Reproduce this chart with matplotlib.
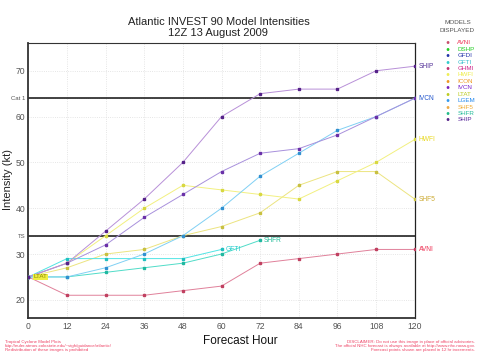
import numpy as np
import matplotlib.pyplot as plt

plt.rcParams["font.family"] = ["Liberation Sans", "DejaVu Sans"]

hours = [0, 12, 24, 36, 48, 60, 72, 84, 96, 108, 120]

# model intensities (kt)
ship = [25, 28, 35, 42, 50, 60, 65, 66, 66, 70, 71]
ivcn = [25, 28, 32, 38, 43, 48, 52, 53, 56, 60, 64]
lgem = [25, 25, 27, 30, 34, 40, 47, 52, 57, 60, 64]
hwfi = [25, 28, 34, 40, 45, 44, 43, 42, 46, 50, 55]
shf5 = [25, 27, 30, 31, 34, 36, 39, 45, 48, 48, 42]
avni = [25, 21, 21, 21, 22, 23, 28, 29, 30, 31, 31]
gfti = [25, 29, 29, 29, 29, 31]
shfr = [25, 25, 26, 27, 28, 30, 33]

legend_models = ["AVNI", "DSHP", "GFDI", "GFTI", "GHMI", "HWFI", "ICON",
                 "IVCN", "LTAT", "LGEM", "SHF5", "SHFR", "SHIP"]
legend_dot = ["#c8506e", "#22cc22", "#2233aa", "#33cccc", "#c03070",
              "#eeee55", "#ee9922", "#7722bb", "#bbcc22", "#3399ee",
              "#eeaa44", "#22bb88", "#552288"]
legend_txt = ["#ee3355", "#22cc22", "#2233aa", "#33bbcc", "#cc2288",
              "#eeee44", "#ee9922", "#7722cc", "#bbcc22", "#2288ee",
              "#eeaa33", "#22bb99", "#552299"]

# y, x, line colour, marker colour, end label colour, label text
series = [
    (avni, hours, "#e0809a", "#c04060", "#ee3355", "AVNI"),
    (shf5, hours, "#ece480", "#c8c040", "#ccaa33", "SHF5"),
    (hwfi, hours, "#f2f080", "#d8d840", "#e8d820", "HWFI"),
    (gfti, hours[:6], "#50e4e4", "#20c0c0", "#22cccc", "GFTI"),
    (shfr, hours[:7], "#50dcc8", "#20b8a0", "#22bb99", "SHFR"),
    (lgem, hours, "#80d0f4", "#3090d0", "#2288ee", None),
    (ivcn, hours, "#a890dc", "#6a30a8", "#2255cc", "IVCN"),
    (ship, hours, "#b890d8", "#552288", "#553399", "SHIP"),
]

fig = plt.figure(figsize=(4.8, 3.6), dpi=100)
ax = fig.add_axes([0.059, 0.1175, 0.805, 0.7635])

for y, x, lc, mc, tc, name in series:
    ax.plot(x, y, color=lc, linewidth=0.7, marker="s", markersize=1.8,
            markerfacecolor=mc, markeredgecolor=mc, zorder=3)
    if name:
        ax.text(x[-1] + 1.2, y[-1], name, fontsize=4.8, color=tc,
                va="center", ha="left", zorder=4, clip_on=False)

ax.text(1.5, 25, "LTAT", fontsize=4.5, color="#888800", va="center",
        ha="left", zorder=4,
        bbox=dict(boxstyle="square,pad=0.1", fc="#eeee44", ec="none"))

# TS and Cat 1 thresholds
ax.axhline(34, color="#222222", linewidth=1.2, zorder=2)
ax.axhline(64, color="#222222", linewidth=1.2, zorder=2)

ax.set_xlim(0, 120)
ax.set_ylim(16.1, 76.1)
ax.set_xticks(hours)
ax.set_yticks([20, 30, 34, 40, 50, 60, 64, 70])
ax.set_yticklabels(["20", "30", "TS", "40", "50", "60", "Cat 1", "70"])
for lab in ax.get_yticklabels():
    if lab.get_text() in ("TS", "Cat 1"):
        lab.set_fontsize(4.3)
    else:
        lab.set_fontsize(6.2)
for lab in ax.get_xticklabels():
    lab.set_fontsize(6.2)
ax.tick_params(axis="y", colors="#555555", length=0, pad=2)
ax.tick_params(axis="x", colors="#555555", length=0, pad=3)
ax.grid(True, color="#dddddd", linestyle=":", linewidth=0.6, zorder=0)

for side in ["left", "bottom"]:
    ax.spines[side].set_linewidth(1.3)
    ax.spines[side].set_color("#333333")
ax.spines["top"].set_linewidth(0.8)
ax.spines["top"].set_color("#333333")
ax.spines["right"].set_linewidth(0.9)
ax.spines["right"].set_linestyle((0, (2, 1)))
ax.spines["right"].set_color("#222222")

fig.text(0.017, 0.5, "Intensity (kt)", fontsize=8, rotation=90,
         ha="center", va="center", color="#222222")
fig.text(0.5, 0.052, "Forecast Hour", fontsize=8.5, ha="center",
         va="center", color="#111111")

fig.text(0.455, 0.94, "Atlantic INVEST 90 Model Intensities", fontsize=8,
         ha="center", va="center", color="#222222")
fig.text(0.455, 0.908, "12Z 13 August 2009", fontsize=8, ha="center",
         va="center", color="#222222")

# model list
fig.text(0.953, 0.938, "MODELS", fontsize=4.6, ha="center", va="center",
         color="#555555")
fig.text(0.953, 0.915, "DISPLAYED", fontsize=4.6, ha="center",
         va="center", color="#555555")
for i, m in enumerate(legend_models):
    yy = 0.881 - i * 0.01785
    fig.text(0.931, yy, "\u25cf", fontsize=4.8, ha="center", va="center",
             color=legend_dot[i])
    fig.text(0.953, yy, m, fontsize=4.5, ha="left", va="center",
             color=legend_txt[i])

# footers
fig.text(0.01, 0.04, "Tropical Cyclone Model Plots\n"
         "http://euler.atmos.colostate.edu/~vigh/guidance/atlantic/\n"
         "Redistribution of these images is prohibited",
         fontsize=3.2, color="#ee4466", ha="left", va="center",
         linespacing=1.0)
fig.text(0.99, 0.04, "DISCLAIMER: Do not use this image in place of official advisories.\n"
         "The official NHC forecast is always available at http://www.nhc.noaa.gov.\n"
         "Forecast points shown are placed in 12 hr increments.",
         fontsize=3.2, color="#ee4466", ha="right", va="center",
         linespacing=1.0)

fig.savefig("out.png", dpi=100, facecolor="white")
